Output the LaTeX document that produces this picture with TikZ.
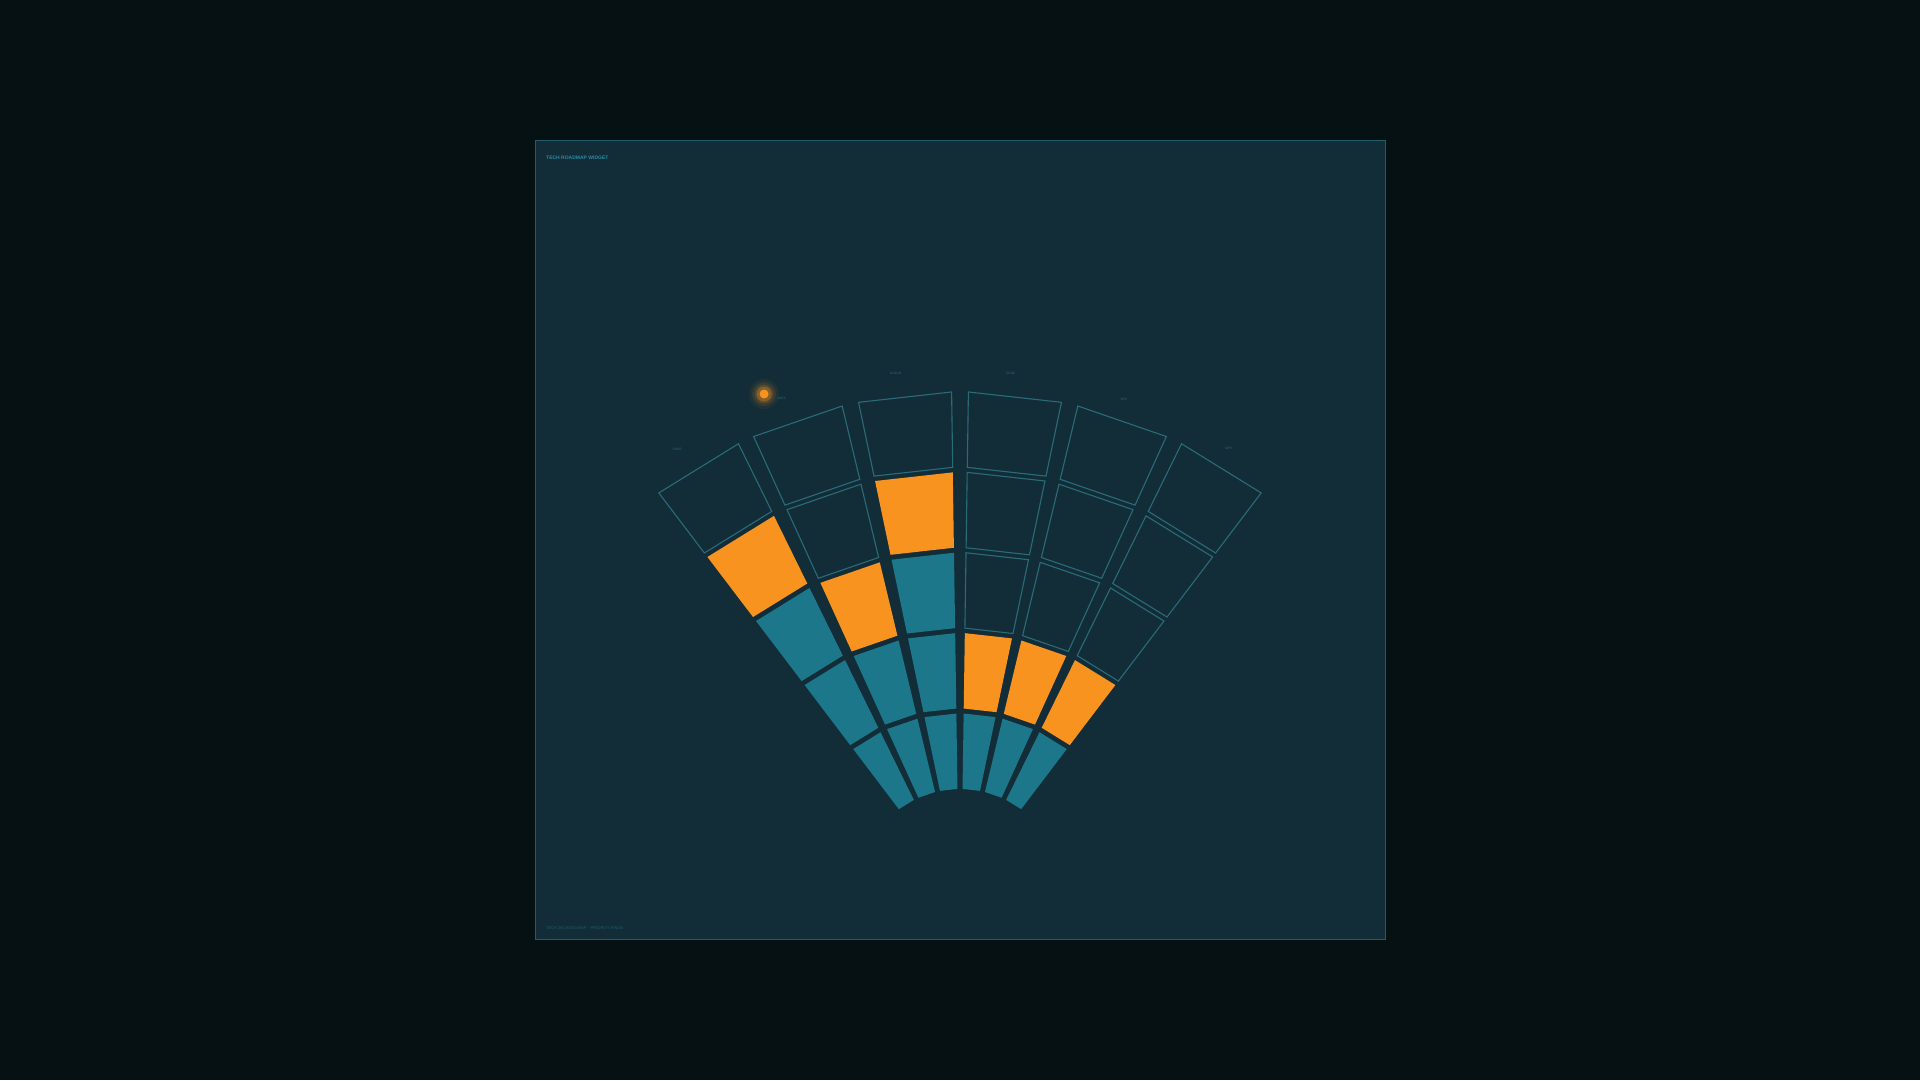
\documentclass[tikz,border=0pt]{standalone}
\usepackage{fontspec}
\setsansfont{Liberation Sans}

\definecolor{pagebg}{HTML}{061114}
\definecolor{panelbg}{HTML}{122D38}
\definecolor{frameline}{HTML}{1F5D6C}
\definecolor{fanteal}{HTML}{1D778A}
\definecolor{fanorange}{HTML}{F7931E}
\definecolor{gridline}{HTML}{2A6B7A}
\definecolor{titletext}{HTML}{2A8BA2}

\begin{document}
\begin{tikzpicture}[x=1pt,y=1pt,
    cellteal/.style={fill=fanteal},
    cellorange/.style={fill=fanorange},
    cellempty/.style={draw=gridline,line width=1.1pt},
    colname/.style={font=\sffamily\fontsize{3.2}{3.2}\selectfont,text=gridline,inner sep=0pt},
    smalltext/.style={font=\sffamily\bfseries\fontsize{5}{5}\selectfont,inner sep=0pt,anchor=west}]
  % page and panel
  \fill[pagebg] (0,0) rectangle (1920,1080);
  \useasboundingbox (0,0) rectangle (1920,1080);
  \draw[frameline,fill=panelbg,line width=0.8pt] (535,141) rectangle (1385,940);
  \node[smalltext,text=titletext] (title) at (546,922) {TECH ROADMAP WIDGET};
  \node[smalltext,text=frameline,font=\sffamily\fontsize{4}{4}\selectfont] (footer) at (546,152)
    {TECH 360 ROADMAP $\cdot$ PRIORITY RINGS};
  % the fan: six columns, five rings each (inner to outer)
  \begin{scope}[shift={(960,188.6)}]
    \foreach \col/\levels in {%
        0/{cellteal,cellteal,cellteal,cellorange,cellempty},
        1/{cellteal,cellteal,cellorange,cellempty,cellempty},
        2/{cellteal,cellteal,cellteal,cellorange,cellempty},
        3/{cellteal,cellorange,cellempty,cellempty,cellempty},
        4/{cellteal,cellorange,cellempty,cellempty,cellempty},
        5/{cellteal,cellorange,cellempty,cellempty,cellempty}} {
      \foreach \kind [count=\ring from 0] in \levels {
        \pgfmathsetmacro\aL{128.05-12.683*\col}
        \pgfmathsetmacro\aR{\aL-12.683}
        \pgfmathsetmacro\rA{100+80.4*\ring+2.5}
        \pgfmathsetmacro\rB{100+80.4*(\ring+1)-2.5}
        \pgfmathsetmacro\dA{0.85+1/\rA*57.2958}
        \pgfmathsetmacro\dB{0.85+1/\rB*57.2958}
        \path[\kind] ({\aL-\dA}:\rA) -- ({\aL-\dB}:\rB)
          -- ({\aR+\dB}:\rB) -- ({\aR+\dA}:\rA) -- cycle;
      }
    }
    % column labels
    \foreach \ang/\rad/\name [count=\i from 0] in
        {122.6/525/CORE,109.9/524/DATA,97.1/522/CLOUD,84.4/521/EDGE,71.6/519/SEC,58.7/518/OPS}
      \node[colname] (label\i) at (\ang:\rad) {\name};
    % current marker
    \coordinate (marker) at (111.5:534.6);
    \foreach \rr/\op in {15/0.06,12/0.1,9.5/0.16,7.5/0.3}
      \fill[fanorange,opacity=\op] (marker) circle (\rr);
    \fill[fanorange] (marker) circle (4.5);
  \end{scope}
\end{tikzpicture}
\end{document}
